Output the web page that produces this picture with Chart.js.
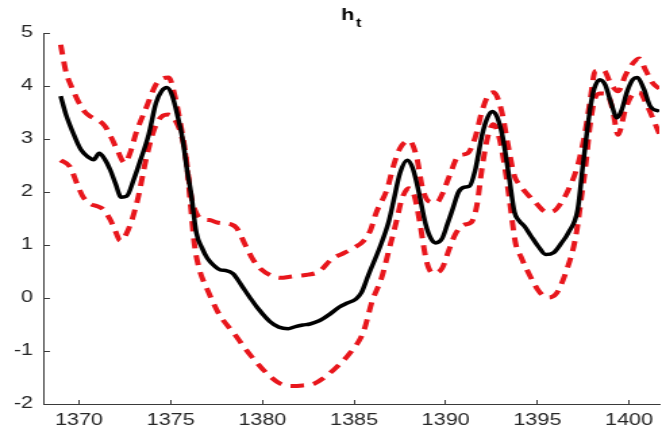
<!DOCTYPE html>
<html>
<head>
<meta charset="utf-8">
<script src="https://cdn.jsdelivr.net/npm/chart.js@4.4.1/dist/chart.umd.min.js"></script>
<style>
    html, body { margin: 0; padding: 0; background: #fff; overflow: hidden; }
    /* the source figure is stretched sideways, so the canvas is too */
    #wrap { width: 490px; height: 432px; transform: scaleX(1.351); transform-origin: 0 0; }
</style>
</head>
<body>
<div id="wrap"><canvas id="myChart"></canvas></div>
<script>
const TITLE_MAIN = 'h';
const TITLE_SUB = 't';

const xTicks = [1370, 1375, 1380, 1385, 1390, 1395, 1400];
const yTicks = [-2, -1, 0, 1, 2, 3, 4, 5];

// h_t (black line)
const meanYears = [
    1369.0, 1369.3, 1369.6, 1370.1, 1370.5, 1370.8, 1371.1, 1371.4, 1371.7, 1372.0,
    1372.3, 1372.6, 1373.0, 1373.3, 1373.8, 1374.2, 1374.5, 1374.8, 1375.1, 1375.4,
    1375.65, 1375.9, 1376.1, 1376.4, 1376.7, 1377.0, 1377.4, 1377.7, 1378.0, 1378.4,
    1378.9, 1379.3, 1379.7, 1380.4, 1380.9, 1381.4, 1381.8, 1382.2, 1382.6, 1383.1,
    1383.7, 1384.2, 1384.6, 1385.1, 1385.4, 1385.8, 1386.4, 1386.9, 1387.2, 1387.5,
    1387.9, 1388.2, 1388.5, 1388.9, 1389.2, 1389.45, 1389.8, 1390.1, 1390.4, 1390.7,
    1391.0, 1391.3, 1391.6, 1392.0, 1392.3, 1392.55, 1392.8, 1393.1, 1393.45, 1393.75,
    1394.0, 1394.3, 1394.65, 1395.1, 1395.45, 1395.9, 1396.3, 1396.7, 1397.2, 1397.5,
    1397.9, 1398.1, 1398.4, 1398.7, 1399.0, 1399.35, 1399.6, 1399.9, 1400.2, 1400.45,
    1400.8, 1401.15, 1401.65
];
const meanValues = [
    3.81, 3.45, 3.18, 2.80, 2.66, 2.61, 2.73, 2.62, 2.42, 2.15,
    1.90, 1.92, 2.25, 2.55, 3.08, 3.68, 3.90, 3.97, 3.80, 3.40,
    3.00, 2.40, 2.00, 1.23, 0.95, 0.75, 0.60, 0.53, 0.52, 0.46,
    0.22, 0.02, -0.17, -0.44, -0.55, -0.58, -0.54, -0.51, -0.49, -0.43,
    -0.30, -0.17, -0.10, -0.02, 0.10, 0.45, 0.95, 1.45, 1.90, 2.35,
    2.60, 2.45, 2.05, 1.40, 1.12, 1.04, 1.12, 1.40, 1.70, 2.00,
    2.09, 2.11, 2.40, 3.10, 3.42, 3.52, 3.42, 3.05, 2.30, 1.62,
    1.46, 1.35, 1.17, 0.95, 0.82, 0.86, 1.03, 1.24, 1.67, 2.55,
    3.62, 3.95, 4.12, 4.02, 3.70, 3.40, 3.55, 3.90, 4.12, 4.16,
    3.95, 3.62, 3.52
];

// upper band (red dashed)
const upperYears = [
    1369.0, 1369.3, 1369.6, 1369.9, 1370.3, 1370.6, 1371.0, 1371.4, 1371.8, 1372.1,
    1372.5, 1372.8, 1373.1, 1373.7, 1374.2, 1374.5, 1374.9, 1375.2, 1375.5, 1375.8,
    1376.1, 1376.4, 1376.8, 1377.1, 1377.6, 1378.3, 1378.6, 1379.1, 1379.5, 1379.9,
    1380.5, 1381.0, 1381.5, 1382.0, 1382.5, 1383.1, 1383.8, 1384.4, 1385.0, 1385.5,
    1385.9, 1386.2, 1386.8, 1387.2, 1387.5, 1388.0, 1388.4, 1388.75, 1389.1, 1389.5,
    1389.8, 1390.2, 1390.7, 1391.2, 1391.6, 1392.0, 1392.35, 1392.6, 1392.8, 1393.1,
    1393.4, 1393.75, 1394.0, 1394.4, 1394.9, 1395.5, 1395.9, 1396.3, 1396.7, 1397.2,
    1397.6, 1397.9, 1398.15, 1398.6, 1399.0, 1399.4, 1399.8, 1400.1, 1400.55, 1400.9,
    1401.3, 1401.65
];
const upperValues = [
    4.78, 4.25, 3.98, 3.75, 3.52, 3.43, 3.36, 3.25, 3.00, 2.78,
    2.55, 2.75, 3.10, 3.62, 4.03, 4.13, 4.16, 3.85, 3.35, 2.75,
    1.95, 1.60, 1.48, 1.47, 1.42, 1.39, 1.32, 0.98, 0.72, 0.55,
    0.42, 0.38, 0.40, 0.42, 0.44, 0.50, 0.74, 0.84, 0.95, 1.07,
    1.28, 1.60, 2.05, 2.55, 2.82, 2.97, 2.68, 2.05, 1.82, 1.80,
    1.95, 2.30, 2.68, 2.73, 3.02, 3.55, 3.84, 3.88, 3.80, 3.45,
    2.88, 2.30, 2.15, 1.98, 1.80, 1.62, 1.64, 1.80, 2.05, 2.50,
    3.12, 3.78, 4.28, 4.30, 4.05, 3.90, 4.20, 4.38, 4.52, 4.30,
    4.05, 3.95
];

// lower band (red dashed)
const lowerYears = [
    1369.0, 1369.5, 1369.9, 1370.2, 1370.6, 1371.0, 1371.3, 1371.7, 1372.0, 1372.25,
    1372.7, 1373.2, 1373.65, 1374.1, 1374.5, 1374.9, 1375.3, 1375.6, 1375.85, 1376.1,
    1376.3, 1376.55, 1377.0, 1377.6, 1378.5, 1379.4, 1380.3, 1381.0, 1381.6, 1382.2,
    1382.8, 1383.3, 1384.0, 1384.8, 1385.5, 1386.0, 1386.5, 1386.9, 1387.3, 1387.6,
    1388.0, 1388.3, 1388.6, 1388.95, 1389.3, 1389.8, 1390.2, 1390.55, 1391.0, 1391.4,
    1391.7, 1392.0, 1392.3, 1392.6, 1392.9, 1393.2, 1393.5, 1393.8, 1394.1, 1394.7,
    1395.1, 1395.55, 1396.0, 1396.55, 1397.1, 1397.4, 1397.65, 1397.85, 1398.1, 1398.4,
    1398.8, 1399.1, 1399.4, 1399.8, 1400.15, 1400.55, 1401.0, 1401.65
];
const lowerValues = [
    2.60, 2.48, 2.15, 1.92, 1.78, 1.73, 1.68, 1.48, 1.25, 1.08,
    1.30, 1.86, 2.61, 3.18, 3.42, 3.46, 3.32, 3.05, 2.60, 1.70,
    1.00, 0.56, 0.16, -0.28, -0.69, -1.10, -1.44, -1.62, -1.66, -1.65,
    -1.62, -1.52, -1.32, -1.03, -0.65, -0.05, 0.38, 0.90, 1.43, 1.86,
    2.07, 1.92, 1.40, 0.70, 0.47, 0.56, 0.93, 1.22, 1.38, 1.43,
    1.75, 2.50, 3.05, 3.28, 3.05, 2.52, 1.80, 1.05, 0.78, 0.35,
    0.12, 0.01, 0.07, 0.48, 1.17, 1.90, 2.55, 3.20, 3.72, 3.86,
    3.85, 3.56, 3.08, 3.56, 3.82, 3.88, 3.62, 3.10
];

const AXIS_COLOR = '#3a3a3a';
const TEXT_COLOR = '#262626';
const RED = 'rgb(232, 22, 28)';
const FONT = '"Liberation Sans", Arial, Helvetica, sans-serif';

const toPoints = (xs, ys) => xs.map((x, i) => ({ x: x, y: ys[i] }));

// MATLAB style title with subscript
const subscriptTitle = {
    id: 'subscriptTitle',
    afterDraw (chart) {
        const { ctx, chartArea } = chart;
        const cx = (chartArea.left + chartArea.right) / 2;

        ctx.save();
        ctx.fillStyle = '#000';
        ctx.textBaseline = 'alphabetic';
        ctx.textAlign = 'left';
        ctx.font = 'bold 16px ' + FONT;
        const mainW = ctx.measureText(TITLE_MAIN).width;
        ctx.font = 'bold 12px ' + FONT;
        const subW = ctx.measureText(TITLE_SUB).width;
        const x0 = cx - (mainW + 1 + subW) / 2;

        ctx.font = 'bold 16px ' + FONT;
        ctx.fillText(TITLE_MAIN, x0, 20);
        ctx.font = 'bold 12px ' + FONT;
        ctx.fillText(TITLE_SUB, x0 + mainW + 1, 27);
        ctx.restore();
    }
};

new Chart(document.getElementById('myChart'), {
    type: 'line',
    data: {
        datasets: [
            {
                label: 'h_t',
                data: toPoints(meanYears, meanValues),
                borderColor: '#000',
                borderWidth: 3.5,
                pointRadius: 0,
                cubicInterpolationMode: 'monotone',
                fill: false
            },
            {
                label: 'upper',
                data: toPoints(upperYears, upperValues),
                borderColor: RED,
                borderWidth: 4,
                borderDash: [10, 7],
                borderCapStyle: 'butt',
                pointRadius: 0,
                cubicInterpolationMode: 'monotone',
                fill: false
            },
            {
                label: 'lower',
                data: toPoints(lowerYears, lowerValues),
                borderColor: RED,
                borderWidth: 4,
                borderDash: [10, 7],
                borderCapStyle: 'butt',
                pointRadius: 0,
                cubicInterpolationMode: 'monotone',
                fill: false
            }
        ]
    },
    options: {
        responsive: true,
        maintainAspectRatio: false,
        animation: false,
        devicePixelRatio: 1,
        layout: {
            padding: { top: 33, left: 0, right: 0, bottom: 0 }
        },
        plugins: {
            legend: { display: false },
            tooltip: { enabled: false },
            title: { display: false }
        },
        scales: {
            x: {
                type: 'linear',
                min: 1368.05,
                max: 1401.65,
                afterBuildTicks: scale => { scale.ticks = xTicks.map(v => ({ value: v })); },
                afterFit: scale => {
                    scale.height = 28;
                    scale.paddingLeft = 0;
                    scale.paddingRight = 0;
                },
                grid: {
                    drawOnChartArea: false,
                    drawTicks: true,
                    tickLength: -4,
                    color: AXIS_COLOR
                },
                border: { display: true, color: AXIS_COLOR, width: 1 },
                ticks: {
                    padding: 11,
                    color: TEXT_COLOR,
                    font: { family: FONT, size: 16 },
                    maxRotation: 0,
                    callback: value => String(value)
                }
            },
            y: {
                min: -2,
                max: 5,
                afterBuildTicks: scale => { scale.ticks = yTicks.map(v => ({ value: v })); },
                afterFit: scale => {
                    scale.width = 32;
                    scale.paddingTop = 0;
                    scale.paddingBottom = 0;
                },
                grid: {
                    drawOnChartArea: false,
                    drawTicks: true,
                    tickLength: -5,
                    color: AXIS_COLOR
                },
                border: { display: true, color: AXIS_COLOR, width: 1 },
                ticks: {
                    padding: 12.5,
                    color: TEXT_COLOR,
                    font: { family: FONT, size: 16 },
                    callback: value => String(value)
                }
            }
        }
    },
    plugins: [subscriptTitle]
});
</script>
</body>
</html>
